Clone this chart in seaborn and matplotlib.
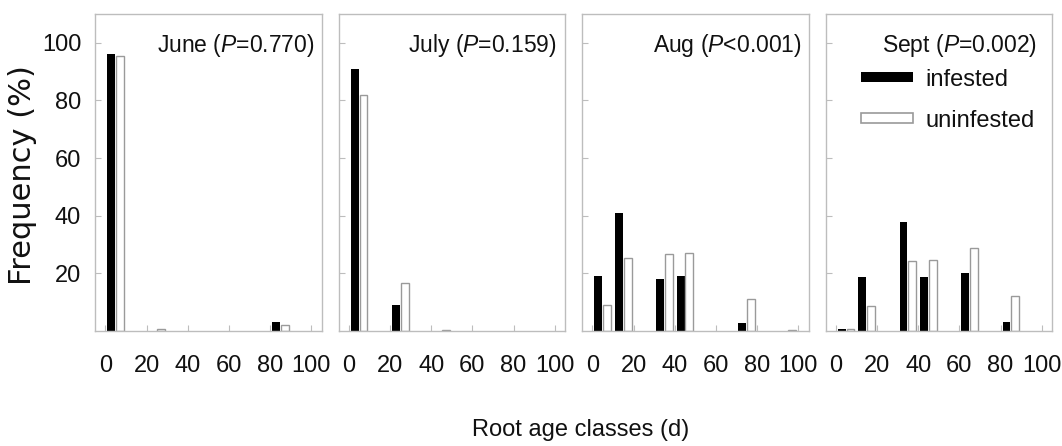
import numpy as np
import pandas as pd
import matplotlib
matplotlib.use("Agg")
import matplotlib.pyplot as plt
from matplotlib import font_manager as fm
from matplotlib.patches import Patch
import seaborn as sns

# Root age classes (d): 10-day bins, bars sit at the bin centres
bin_starts = [0, 10, 20, 30, 40, 50, 60, 70, 80, 90]
months = ["June", "July", "Aug", "Sept"]
p_values = ["=0.770", "=0.159", "<0.001", "=0.002"]

# Frequency (%) of roots per age class
infested = {
    "June": [96.0, 0, 0, 0, 0, 0, 0, 0, 3.0, 0],
    "July": [91.0, 0, 9.2, 0, 0, 0, 0, 0, 0, 0],
    "Aug":  [19.1, 41.0, 0, 17.9, 19.1, 0, 0, 2.9, 0, 0],
    "Sept": [0.6, 18.8, 0, 37.7, 18.8, 0, 20.3, 0, 3.0, 0],
}
uninfested = {
    "June": [95.3, 0, 0.8, 0, 0, 0, 0, 0, 2.2, 0],
    "July": [82.0, 0, 16.7, 0, 0.4, 0, 0, 0, 0, 0],
    "Aug":  [9.2, 25.4, 0, 26.6, 27.1, 0, 0, 11.0, 0, 0.5],
    "Sept": [0.8, 8.7, 0, 24.4, 24.8, 0, 28.9, 0, 12.1, 0],
}
status_order = ["infested", "uninfested"]
x_ticks = [0, 20, 40, 60, 80, 100]
y_ticks = [20, 40, 60, 80, 100]

rows = []
for m in months:
    for b, vi, vu in zip(bin_starts, infested[m], uninfested[m]):
        rows.append({"month": m, "age": b + 5, "status": "infested", "freq": vi})
        rows.append({"month": m, "age": b + 5, "status": "uninfested", "freq": vu})
df = pd.DataFrame(rows)

sns.set_theme(style="white")
available = {f.name for f in fm.fontManager.ttflist}
narrow = "Liberation Sans Narrow" if "Liberation Sans Narrow" in available else "Liberation Sans"
plt.rcParams["font.family"] = [narrow, "DejaVu Sans"]
plt.rcParams["mathtext.fontset"] = "custom"
plt.rcParams["mathtext.rm"] = narrow
plt.rcParams["mathtext.it"] = narrow + ":italic"

edge_grey = "#9a9a9a"
spine_grey = "#bdbdbd"
text_col = "#111111"

fig, axes = plt.subplots(1, 4, figsize=(10.62, 4.46), dpi=100, sharey=True)
fig.subplots_adjust(left=0.0895, right=0.9906, top=0.9686, bottom=0.2578, wspace=0.075)

title_x = [0.968, 0.96, 0.968, 0.932]

for i, (ax, m, p) in enumerate(zip(axes, months, p_values)):
    sub = df[df["month"] == m]
    sns.barplot(data=sub, x="age", y="freq", hue="status", hue_order=status_order,
                palette={"infested": "black", "uninfested": "white"},
                native_scale=True, width=0.85, gap=0.1, errorbar=None,
                legend=False, ax=ax, linewidth=0)
    for cont, ec, lw in zip(ax.containers, ["black", edge_grey], [0.0, 1.0]):
        for bar in cont:
            if bar.get_height() > 0:
                bar.set_edgecolor(ec)
                bar.set_linewidth(lw)
            else:
                bar.set_visible(False)

    ax.set_xlim(-5, 105)
    ax.set_ylim(0, 110)
    ax.set_xticks(x_ticks)
    ax.set_xticklabels([str(t) for t in x_ticks])
    ax.set_yticks(y_ticks)
    ax.set_xlabel("")
    ax.set_ylabel("")
    for s in ax.spines.values():
        s.set_visible(True)
        s.set_color(spine_grey)
        s.set_linewidth(1.0)
    ax.tick_params(axis="x", direction="in", length=4, width=0.8, color=spine_grey,
                   labelsize=17, pad=17, bottom=True, labelcolor=text_col)
    ax.tick_params(axis="y", direction="in", length=4, width=0.8, color=spine_grey,
                   left=True, labelcolor=text_col)
    if i == 0:
        for lab in ax.get_yticklabels():
            lab.set_family(["Liberation Sans", "DejaVu Sans"])
            lab.set_fontsize(17)
        ax.tick_params(axis="y", pad=10)
    else:
        ax.tick_params(axis="y", labelleft=False)

    ax.text(title_x[i], 0.88, m + r" ($\it{P}$" + p + ")", transform=ax.transAxes,
            ha="right", va="baseline", fontsize=16.5, color=text_col)

handles = [Patch(facecolor="black", edgecolor="black", linewidth=0),
           Patch(facecolor="white", edgecolor=edge_grey, linewidth=1.2)]
axes[3].legend(handles, status_order, loc="upper right", bbox_to_anchor=(0.935, 0.835),
               frameon=False, fontsize=17, handlelength=2.2, handleheight=0.3,
               handletextpad=0.55, labelspacing=0.8, borderpad=0.1, borderaxespad=0,
               labelcolor=text_col)

fig.text(22.5 / 1062, 1 - 175 / 446, "Frequency (%)", rotation=90, ha="center", va="center",
         fontsize=22, family=["DejaVu Sans"], color=text_col)
fig.text(581 / 1062, 1 - 430 / 446, "Root age classes (d)", ha="center", va="center",
         fontsize=17, color=text_col)

fig.savefig("out.png", dpi=100)
